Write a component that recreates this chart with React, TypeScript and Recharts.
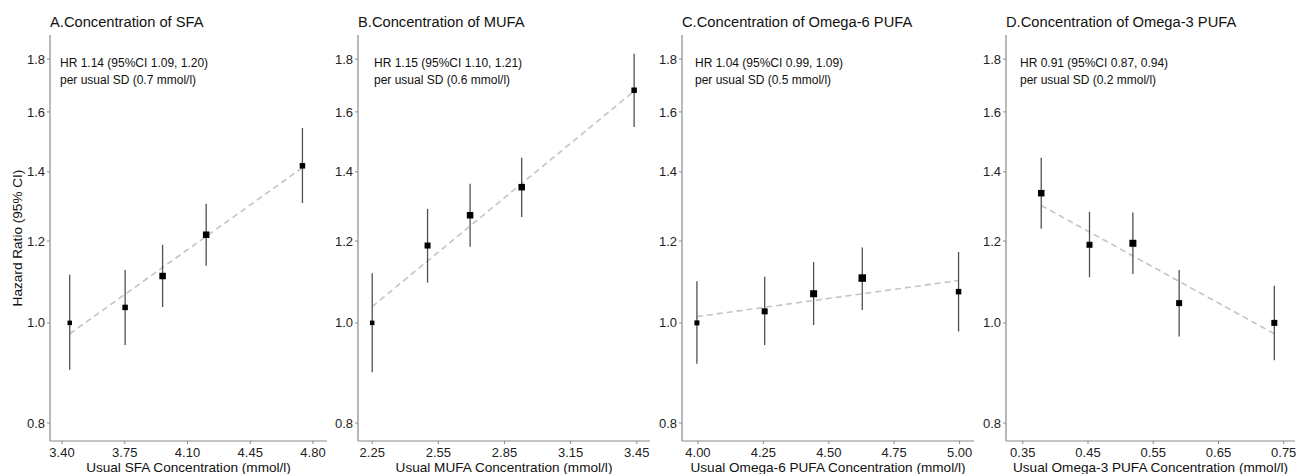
import { ComposedChart, Scatter, Line, XAxis, YAxis, ErrorBar } from "recharts";

const hrTicks = [0.8, 1.0, 1.2, 1.4, 1.6, 1.8];

// A. SFA
const sfaConc = [3.443, 3.752, 3.961, 4.204, 4.741];
const sfaHR = [1.0, 1.035, 1.11, 1.217, 1.419];
const sfaLow = [0.901, 0.952, 1.036, 1.136, 1.306];
const sfaHigh = [1.113, 1.125, 1.19, 1.304, 1.544];
const sfaFit = [0.976, 1.413];
const sfaTicks = [3.4, 3.75, 4.1, 4.45, 4.8];

// B. MUFA
const mufaConc = [2.25, 2.501, 2.694, 2.928, 3.438];
const mufaHR = [1.0, 1.188, 1.271, 1.353, 1.679];
const mufaLow = [0.896, 1.094, 1.185, 1.266, 1.547];
const mufaHigh = [1.117, 1.289, 1.363, 1.445, 1.821];
const mufaFit = [1.037, 1.676];
const mufaTicks = [2.25, 2.55, 2.85, 3.15, 3.45];

// C. Omega-6 PUFA
const n6Conc = [3.996, 4.255, 4.442, 4.628, 4.996];
const n6HR = [1.0, 1.026, 1.067, 1.105, 1.072];
const n6Low = [0.913, 0.952, 0.995, 1.029, 0.981];
const n6High = [1.097, 1.108, 1.145, 1.183, 1.171];
const n6Fit = [1.014, 1.099];
const n6Ticks = [4.0, 4.25, 4.5, 4.75, 5.0];

// D. Omega-3 PUFA
const n3Conc = [0.3783, 0.4523, 0.5188, 0.5897, 0.7356];
const n3HR = [1.335, 1.19, 1.194, 1.045, 1.0];
const n3Low = [1.233, 1.107, 1.115, 0.97, 0.92];
const n3High = [1.445, 1.281, 1.279, 1.125, 1.086];
const n3Fit = [1.299, 0.976];
const n3Ticks = [0.35, 0.45, 0.55, 0.65, 0.75];

const FONT = "'Liberation Sans', Arial, sans-serif";

const panels = [
  {
    title: "A.Concentration of SFA",
    hr: "HR 1.14 (95%CI 1.09, 1.20)",
    sd: "per usual SD (0.7 mmol/l)",
    xLabel: "Usual SFA Concentration (mmol/l)",
    conc: sfaConc, est: sfaHR, low: sfaLow, high: sfaHigh, fit: sfaFit, ticks: sfaTicks,
    xDomain: [3.333, 4.878],
    left: 0, width: 330, yWidth: 50, right: 3,
    marker: [4.5, 5.5, 6.5, 6.5, 5.5],
    textX: 60,
  },
  {
    title: "B.Concentration of MUFA",
    hr: "HR 1.15 (95%CI 1.10, 1.21)",
    sd: "per usual SD (0.6 mmol/l)",
    xLabel: "Usual MUFA Concentration (mmol/l)",
    conc: mufaConc, est: mufaHR, low: mufaLow, high: mufaHigh, fit: mufaFit, ticks: mufaTicks,
    xDomain: [2.1855, 3.51],
    left: 330, width: 322, yWidth: 28, right: 2,
    marker: [4.5, 6, 6.5, 6.5, 5.5],
    textX: 374,
  },
  {
    title: "C.Concentration of Omega-6 PUFA",
    hr: "HR 1.04 (95%CI 0.99, 1.09)",
    sd: "per usual SD (0.5 mmol/l)",
    xLabel: "Usual Omega-6 PUFA Concentration (mmol/l)",
    conc: n6Conc, est: n6HR, low: n6Low, high: n6High, fit: n6Fit, ticks: n6Ticks,
    xDomain: [3.939, 5.055],
    left: 652, width: 324, yWidth: 30, right: 2,
    marker: [5, 6, 7, 7.5, 5.5],
    textX: 695,
  },
  {
    title: "D.Concentration of Omega-3 PUFA",
    hr: "HR 0.91 (95%CI 0.87, 0.94)",
    sd: "per usual SD (0.2 mmol/l)",
    xLabel: "Usual Omega-3 PUFA Concentration (mmol/l)",
    conc: n3Conc, est: n3HR, low: n3Low, high: n3High, fit: n3Fit, ticks: n3Ticks,
    xDomain: [0.3243, 0.7673],
    left: 976, width: 322, yWidth: 30, right: 3,
    marker: [6.5, 6, 7, 6, 6],
    textX: 1020,
  },
];

const Square = (props: any) => {
  const { cx, cy, payload } = props;
  const s = payload.size;
  return <rect x={cx - s / 2} y={cy - s / 2} width={s} height={s} fill="#000" />;
};

function Panel({ p, first }: { p: (typeof panels)[number]; first: boolean }) {
  const points = p.conc.map((x, i) => ({
    x,
    hr: p.est[i],
    err: [p.est[i] - p.low[i], p.high[i] - p.est[i]],
    size: p.marker[i],
  }));
  const fitLine = [
    { x: p.conc[0], hr: p.fit[0] },
    { x: p.conc[p.conc.length - 1], hr: p.fit[1] },
  ];
  const axisColor = "#8a8a8a";
  return (
    <div style={{ position: "absolute", left: p.left, top: 0 }}>
      <ComposedChart
        width={p.width}
        height={474}
        margin={{ top: 35, right: p.right, left: 0, bottom: 0 }}
      >
        <XAxis
          dataKey="x"
          type="number"
          domain={p.xDomain}
          ticks={p.ticks}
          allowDataOverflow
          interval={0}
          height={33}
          tickSize={3}
          tickMargin={4}
          tickFormatter={(v: number) => v.toFixed(2)}
          axisLine={{ stroke: axisColor, strokeWidth: 1.2 }}
          tickLine={{ stroke: axisColor }}
          tick={{ fontSize: 13, fill: "#222", fontFamily: FONT }}
          label={{
            value: p.xLabel,
            position: "insideBottom",
            offset: 2,
            style: { fontSize: 13.6, fill: "#111", fontFamily: FONT },
          }}
        />
        <YAxis
          dataKey="hr"
          type="number"
          scale="log"
          domain={[0.7686, 1.899]}
          ticks={hrTicks}
          allowDataOverflow
          interval={0}
          width={p.yWidth}
          tickSize={3}
          tickMargin={2}
          tickFormatter={(v: number) => v.toFixed(1)}
          axisLine={{ stroke: axisColor, strokeWidth: 1.2 }}
          tickLine={{ stroke: axisColor }}
          tick={{ fontSize: 13, fill: "#222", fontFamily: FONT }}
          label={
            first
              ? {
                  value: "Hazard Ratio (95% CI)",
                  angle: -90,
                  position: "insideLeft",
                  offset: 17,
                  style: { fontSize: 13.6, fill: "#111", fontFamily: FONT, textAnchor: "middle" },
                }
              : undefined
          }
        />
        <Line
          data={fitLine}
          dataKey="hr"
          stroke="#c4c4c4"
          strokeWidth={1.6}
          strokeDasharray="6 4"
          dot={false}
          activeDot={false}
          isAnimationActive={false}
        />
        <Scatter data={points} dataKey="hr" shape={Square} isAnimationActive={false}>
          <ErrorBar dataKey="err" direction="y" width={0} stroke="#505050" strokeWidth={1.3} />
        </Scatter>
      </ComposedChart>
    </div>
  );
}

export default function App() {
  return (
    <div
      style={{
        position: "absolute",
        left: 0,
        top: 0,
        width: 1299,
        height: 474,
        background: "#fff",
        overflow: "hidden",
      }}
    >
      {panels.map((p, i) => (
        <Panel key={p.title} p={p} first={i === 0} />
      ))}
      <svg
        width={1299}
        height={474}
        style={{ position: "absolute", left: 0, top: 0, pointerEvents: "none" }}
      >
        {panels.map((p) => (
          <g key={p.title} fontFamily={FONT}>
            <text x={p.left + p.yWidth} y={27.3} fontSize={14.7} fill="#111">
              {p.title}
            </text>
            <text x={p.textX} y={67} fontSize={12} fill="#111">
              {p.hr}
            </text>
            <text x={p.textX} y={83.5} fontSize={12} fill="#111">
              {p.sd}
            </text>
          </g>
        ))}
      </svg>
    </div>
  );
}
